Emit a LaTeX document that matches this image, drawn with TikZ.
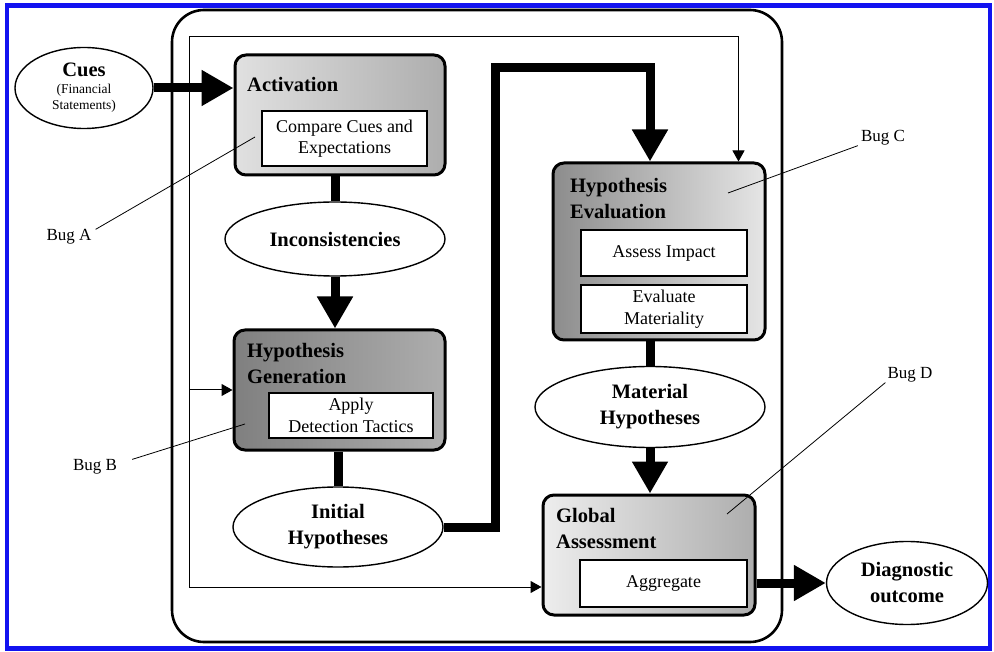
\documentclass[tikz,border=0pt]{standalone}
\usepackage{fontspec}
\setmainfont{Liberation Serif}
\usetikzlibrary{arrows.meta,calc,positioning,shapes.geometric}
\definecolor{frameblue}{RGB}{18,18,240}

\begin{document}
\begin{tikzpicture}[x=1pt,y=-1pt,
    stage/.style={draw,rounded corners=11pt,line width=3pt,inner sep=0pt},
    task/.style={draw,fill=white,line width=1.4pt,inner sep=0pt,align=center,font=\fontsize{18}{21.5}\selectfont},
    oval/.style={ellipse,draw,fill=white,line width=1.4pt,inner sep=0pt,align=center,font=\fontsize{20.5}{26}\selectfont\bfseries},
    head/.style={anchor=north west,align=left,inner sep=0pt,font=\fontsize{20.5}{26}\selectfont\bfseries},
    bug/.style={inner sep=0pt,font=\fontsize{17}{20}\selectfont},
    flow/.style={line width=9pt},
    flowto/.style={flow,-{Triangle[length=32pt,width=34pt]}},
    fb/.style={line width=1pt,-{Triangle[length=11pt,width=12pt]}}]
  \useasboundingbox (0,0) rectangle (994,652);
  \draw[frameblue,line width=4.5pt] (7,5.5) rectangle (990,648.5);
  \draw[line width=2.6pt,rounded corners=32pt] (172,10) rectangle (782,642);

  % stages
  \node[stage,left color=black!12,right color=black!32,minimum width=210pt,minimum height=120pt] (act) at (340,115) {};
  \node[stage,left color=black!50,right color=black!32,minimum width=211pt,minimum height=120pt] (gen) at (339.5,390) {};
  \node[stage,left color=black!45,right color=black!10,minimum width=212pt,minimum height=177pt] (eval) at (659,251.5) {};
  \node[stage,left color=black!7,right color=black!32,minimum width=212pt,minimum height=120pt] (glob) at (649,555) {};
  \node[head] at (247,77) {Activation};
  \node[head] at (247,343) {Hypothesis\\Generation};
  \node[head] at (570,178) {Hypothesis\\Evaluation};
  \node[head] at (556,508) {Global\\Assessment};
  \node[task,minimum width=165pt,minimum height=55pt] (cmp) at (344.5,138.5) {Compare Cues and\\Expectations};
  \node[task,minimum width=164pt,minimum height=45pt] (tac) at (351,415.5) {Apply\\Detection Tactics};
  \node[task,minimum width=166pt,minimum height=46pt] (imp) at (664,253) {Assess Impact};
  \node[task,minimum width=166pt,minimum height=48pt] (mat) at (664,309) {Evaluate\\Materiality};
  \node[task,minimum width=167pt,minimum height=47pt] (agg) at (663.5,583.5) {Aggregate};

  % ovals
  \node[oval,minimum width=138pt,minimum height=81pt] (cues) at (84,88)
    {Cues\\[-9pt]{\fontsize{13.5}{15}\selectfont\mdseries (Financial}\\[-10pt]{\fontsize{13.5}{15}\selectfont\mdseries Statements)}};
  \node[oval,minimum width=220pt,minimum height=74pt] (inc) at (335,239) {Inconsistencies};
  \node[oval,minimum width=210pt,minimum height=80pt] (ini) at (338,527) {Initial\\Hypotheses};
  \node[oval,minimum width=230pt,minimum height=81pt] (matH) at (650,407) {Material\\Hypotheses};
  \node[oval,minimum width=161pt,minimum height=83pt] (diag) at (907,583) {Diagnostic\\outcome};

  % main flow
  \draw[flowto] (cues.east) -- (cues.east -| act.west);
  \draw[flow] (inc.north |- act.south) -- (inc.north);
  \draw[flowto] (inc.south) -- (inc.south |- gen.north);
  \draw[flow] (ini.north |- gen.south) -- (ini.north);
  \coordinate (up) at (495,68);
  \draw[flowto] (ini.east) -| (up) -| (matH.north |- eval.north);
  \draw[flow] (matH.north |- eval.south) -- (matH.north);
  \draw[flowto] (matH.south) -- (matH.south |- glob.north);
  \draw[flowto] (glob.east |- diag.west) -- (diag.west);

  % feedback
  \coordinate (loop) at (189,37);
  \draw[fb] (loop) -| ([xshift=-28pt]eval.north east);
  \draw[fb] (loop) |- ([yshift=-32pt]glob.west);
  \draw[fb] (loop |- gen.west) -- (gen.west);

  % bugs
  \node[bug] (bugA) at (69,237) {Bug A};
  \node[bug] (bugB) at (95,467) {Bug B};
  \node[bug] (bugC) at (883,138) {Bug C};
  \node[bug] (bugD) at (910,375) {Bug D};
  \coordinate (hitA) at (255,137);
  \coordinate (hitB) at (245,424);
  \coordinate (hitC) at (728,193);
  \coordinate (hitD) at (727,514);
  \draw[line width=0.8pt] ([xshift=4pt]bugA.north east) -- (hitA);
  \draw[line width=0.8pt] ([xshift=15pt]bugB.north east) -- (hitB);
  \draw[line width=0.8pt] ([xshift=-3pt]bugC.south west) -- (hitC);
  \draw[line width=0.8pt] ([xshift=-2pt]bugD.south west) -- (hitD);
\end{tikzpicture}
\end{document}
